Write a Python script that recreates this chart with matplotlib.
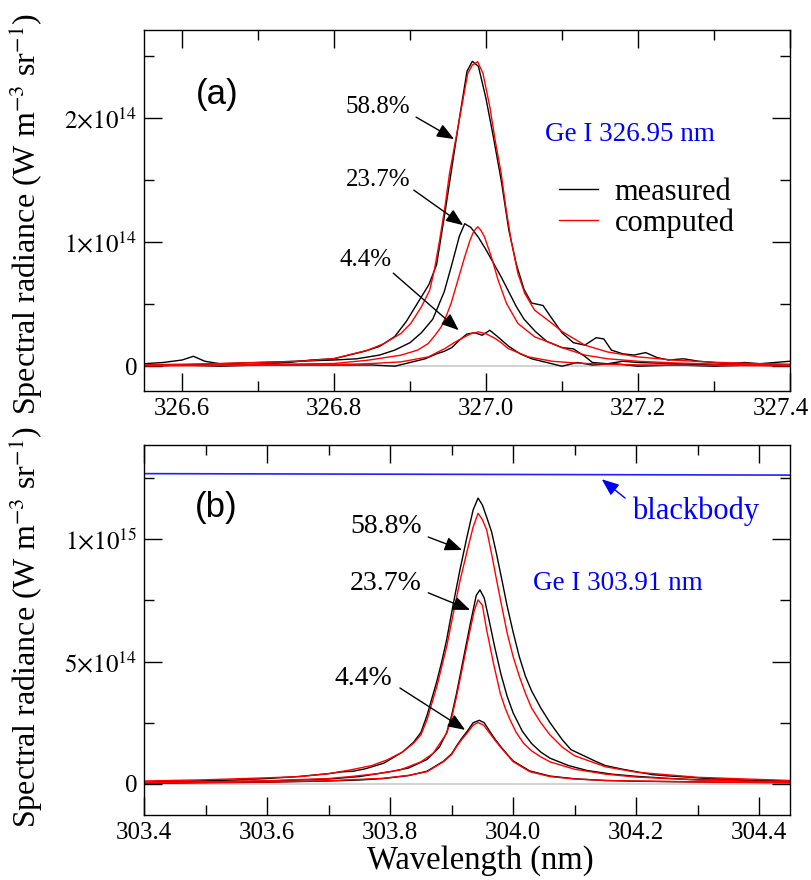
import matplotlib
matplotlib.use("Agg")
import matplotlib.pyplot as plt
from matplotlib.ticker import MultipleLocator, FixedLocator, FixedFormatter
from matplotlib.lines import Line2D
from matplotlib.transforms import ScaledTranslation

plt.rcParams['font.family'] = ['Liberation Serif', 'DejaVu Serif']
plt.rcParams['mathtext.fontset'] = 'stix'

# ---------------- panel (a): Ge I 326.95 nm  (values in 1e14 W m^-3 sr^-1) ----------------
wl_red588_a = [326.55, 326.6, 326.65, 326.7, 326.756, 326.8, 326.844, 326.866, 326.888, 326.901,
               326.915, 326.926, 326.932, 326.939, 326.946, 326.952, 326.96, 326.968, 326.976,
               326.982, 326.989, 326.996, 327.005, 327.012, 327.02, 327.026, 327.033, 327.042,
               327.051, 327.064, 327.087, 327.1, 327.13, 327.16, 327.2, 327.25, 327.3, 327.35, 327.4]
comp588_a = [0.012, 0.016, 0.022, 0.030, 0.040, 0.062, 0.129, 0.183, 0.264, 0.345,
             0.479, 0.614, 0.775, 1.017, 1.286, 1.556, 1.825, 2.094, 2.363,
             2.43, 2.457, 2.363, 2.094, 1.825, 1.556, 1.286, 1.017, 0.748,
             0.587, 0.452, 0.345, 0.28, 0.17, 0.115, 0.075, 0.048, 0.032, 0.022, 0.016]

wl_red237_a = [326.55, 326.6, 326.65, 326.7, 326.75, 326.8, 326.844, 326.888, 326.91, 326.924,
               326.933, 326.941, 326.948, 326.954, 326.963, 326.972, 326.979, 326.984, 326.989,
               326.993, 326.998, 327.007, 327.016, 327.027, 327.042, 327.064, 327.087, 327.1,
               327.13, 327.16, 327.2, 327.25, 327.3, 327.35, 327.4]
comp237_a = [0.006, 0.008, 0.011, 0.014, 0.018, 0.022, 0.048, 0.089, 0.13, 0.183,
             0.25, 0.317, 0.41, 0.506, 0.694, 0.883, 1.017, 1.09, 1.125,
             1.10, 1.044, 0.883, 0.694, 0.506, 0.345, 0.237, 0.183, 0.15,
             0.09, 0.06, 0.04, 0.026, 0.018, 0.013, 0.010]

wl_red44_a = [326.55, 326.6, 326.65, 326.7, 326.75, 326.8, 326.844, 326.888, 326.924, 326.946,
              326.958, 326.968, 326.98, 326.99, 327.0, 327.012, 327.02, 327.029, 327.056,
              327.087, 327.12, 327.16, 327.2, 327.25, 327.3, 327.35, 327.4]
comp44_a = [0.003, 0.004, 0.005, 0.007, 0.009, 0.013, 0.020, 0.035, 0.075, 0.143,
            0.19, 0.224, 0.262, 0.277, 0.262, 0.224, 0.19, 0.143, 0.075,
            0.040, 0.025, 0.016, 0.011, 0.008, 0.006, 0.004, 0.003]

wl_m588_a = [326.55, 326.575, 326.60, 326.615, 326.63, 326.65, 326.68, 326.71, 326.74, 326.77, 326.80,
             326.82, 326.84, 326.86, 326.88, 326.895, 326.91, 326.925, 326.935, 326.945, 326.955,
             326.965, 326.975, 326.982, 326.99, 327.0, 327.01, 327.02, 327.03, 327.04, 327.05,
             327.06, 327.075, 327.085, 327.10, 327.115, 327.13, 327.145, 327.155, 327.165, 327.18,
             327.195, 327.21, 327.225, 327.24, 327.26, 327.28, 327.30, 327.32, 327.34, 327.36,
             327.38, 327.40]
meas588_a = [0.02, 0.03, 0.05, 0.08, 0.04, 0.02, 0.01, 0.02, 0.03, 0.05, 0.06,
             0.09, 0.12, 0.16, 0.24, 0.36, 0.51, 0.66, 0.82, 1.20, 1.60,
             2.00, 2.38, 2.46, 2.42, 2.16, 1.84, 1.50, 1.10, 0.82, 0.62,
             0.51, 0.49, 0.40, 0.27, 0.19, 0.17, 0.23, 0.22, 0.13, 0.10,
             0.09, 0.11, 0.07, 0.05, 0.06, 0.04, 0.03, 0.02, 0.03, 0.02,
             0.03, 0.04]

wl_m237_a = [326.55, 326.6, 326.65, 326.7, 326.75, 326.8, 326.83, 326.86, 326.88, 326.9, 326.915,
             326.93, 326.945, 326.955, 326.965, 326.972, 326.98, 326.99, 327.0, 327.01, 327.02,
             327.03, 327.04, 327.05, 327.065, 327.08, 327.1, 327.115, 327.13, 327.14, 327.16,
             327.18, 327.2, 327.25, 327.3, 327.35, 327.4]
meas237_a = [0.00, 0.01, 0.02, 0.03, 0.04, 0.05, 0.06, 0.09, 0.13, 0.19, 0.27,
             0.38, 0.60, 0.82, 1.05, 1.15, 1.12, 1.04, 0.94, 0.83, 0.72,
             0.60, 0.48, 0.38, 0.28, 0.20, 0.15, 0.14, 0.08, 0.03, 0.02,
             0.04, 0.03, 0.02, 0.01, 0.02, 0.01]

wl_m44_a = [326.55, 326.6, 326.65, 326.7, 326.75, 326.8, 326.85, 326.88, 326.9, 326.92, 326.935,
            326.945, 326.955, 326.965, 326.975, 326.985, 326.995, 327.005, 327.015, 327.03, 327.045,
            327.06, 327.08, 327.1, 327.12, 327.14, 327.17, 327.2, 327.25, 327.3, 327.35, 327.4]
meas44_a = [0.00, 0.01, 0.00, 0.01, 0.01, 0.01, 0.01, 0.00, 0.03, 0.06, 0.10,
            0.12, 0.15, 0.21, 0.26, 0.27, 0.25, 0.29, 0.24, 0.16, 0.10,
            0.06, 0.03, 0.00, 0.03, 0.01, 0.02, 0.00, 0.01, 0.00, 0.01, 0.00]

# ---------------- panel (b): Ge I 303.91 nm  (values in 1e15 W m^-3 sr^-1) ----------------
wl_red588_b = [303.4, 303.5, 303.6, 303.654, 303.7, 303.735, 303.77, 303.795, 303.82, 303.838,
               303.85, 303.86, 303.868, 303.876, 303.884, 303.892, 303.903, 303.914, 303.925,
               303.935, 303.943, 303.95, 303.957, 303.965, 303.973, 303.982, 303.99, 304.0,
               304.01, 304.02, 304.03, 304.045, 304.06, 304.08, 304.1, 304.15, 304.2, 304.3, 304.45]
comp588_b = [0.012, 0.017, 0.025, 0.030, 0.042, 0.057, 0.075, 0.098, 0.13, 0.166,
             0.20, 0.262, 0.33, 0.398, 0.48, 0.561, 0.70, 0.834, 0.95,
             1.05, 1.106, 1.08, 1.038, 0.94, 0.834, 0.72, 0.62, 0.52,
             0.44, 0.37, 0.31, 0.25, 0.20, 0.15, 0.115, 0.07, 0.048, 0.027, 0.014]

wl_red237_b = [303.4, 303.5, 303.6, 303.7, 303.735, 303.78, 303.816, 303.85, 303.87, 303.892,
               303.9, 303.908, 303.919, 303.93, 303.937, 303.943, 303.95, 303.957, 303.968,
               303.979, 303.987, 303.995, 304.005, 304.017, 304.03, 304.044, 304.06, 304.1,
               304.15, 304.2, 304.3, 304.45]
comp237_b = [0.005, 0.008, 0.013, 0.022, 0.030, 0.042, 0.057, 0.09, 0.125, 0.207,
             0.27, 0.357, 0.493, 0.629, 0.71, 0.752, 0.73, 0.629, 0.493,
             0.371, 0.31, 0.262, 0.21, 0.166, 0.135, 0.112, 0.09, 0.06,
             0.04, 0.028, 0.016, 0.008]

wl_red44_b = [303.4, 303.6, 303.7, 303.789, 303.83, 303.86, 303.887, 303.9, 303.908, 303.916,
              303.925, 303.935, 303.943, 303.952, 303.962, 303.97, 303.979, 303.99, 304.0,
              304.027, 304.06, 304.1, 304.15, 304.3, 304.45]
comp44_b = [0.004, 0.008, 0.013, 0.023, 0.035, 0.050, 0.091, 0.12, 0.152, 0.18,
            0.207, 0.24, 0.251, 0.24, 0.207, 0.18, 0.152, 0.12, 0.091,
            0.05, 0.03, 0.02, 0.014, 0.008, 0.005]

wl_m588_b = [303.4, 303.45, 303.5, 303.55, 303.6, 303.65, 303.7, 303.72, 303.74, 303.76, 303.79,
             303.82, 303.838, 303.85, 303.86, 303.868, 303.876, 303.884, 303.892, 303.903, 303.914,
             303.925, 303.935, 303.943, 303.95, 303.957, 303.965, 303.973, 303.982, 303.99, 304.0,
             304.01, 304.02, 304.03, 304.045, 304.06, 304.08, 304.094, 304.115, 304.136, 304.15,
             304.178, 304.2, 304.226, 304.25, 304.282, 304.31, 304.331, 304.36, 304.4, 304.43, 304.45]
meas588_b = [0.007, 0.010, 0.013, 0.016, 0.022, 0.030, 0.042, 0.049, 0.052, 0.062, 0.085,
             0.13, 0.17, 0.21, 0.28, 0.35, 0.42, 0.50, 0.59, 0.74, 0.88,
             1.01, 1.12, 1.168, 1.14, 1.09, 1.03, 0.94, 0.83, 0.73, 0.62,
             0.52, 0.44, 0.38, 0.31, 0.25, 0.18, 0.14, 0.115, 0.09, 0.075,
             0.06, 0.05, 0.038, 0.033, 0.028, 0.023, 0.021, 0.017, 0.014, 0.013, 0.011]

wl_m237_b = [303.4, 303.5, 303.6, 303.7, 303.75, 303.8, 303.83, 303.86, 303.88, 303.892, 303.9,
             303.908, 303.919, 303.93, 303.94, 303.946, 303.953, 303.96, 303.97, 303.98, 303.99,
             304.0, 304.015, 304.03, 304.045, 304.06, 304.09, 304.12, 304.16, 304.2, 304.25,
             304.3, 304.35, 304.4, 304.45]
meas237_b = [0.004, 0.007, 0.012, 0.020, 0.030, 0.050, 0.065, 0.10, 0.15, 0.21, 0.28,
             0.37, 0.51, 0.65, 0.77, 0.793, 0.76, 0.68, 0.56, 0.45, 0.36,
             0.29, 0.215, 0.165, 0.13, 0.105, 0.075, 0.055, 0.040, 0.031, 0.023,
             0.017, 0.014, 0.011, 0.009]

wl_m44_b = [303.4, 303.5, 303.6, 303.7, 303.75, 303.789, 303.83, 303.86, 303.887, 303.9, 303.908,
            303.916, 303.925, 303.935, 303.945, 303.953, 303.962, 303.97, 303.979, 303.99, 304.0,
            304.027, 304.06, 304.1, 304.15, 304.2, 304.3, 304.45]
meas44_b = [0.003, 0.005, 0.007, 0.012, 0.016, 0.022, 0.034, 0.052, 0.093, 0.123, 0.155,
            0.185, 0.214, 0.25, 0.26, 0.25, 0.215, 0.185, 0.155, 0.122, 0.094,
            0.053, 0.032, 0.021, 0.014, 0.011, 0.008, 0.005]

wl_bb = [303.4, 304.45]
blackbody = [1.268, 1.262]

pct_labels = ['58.8%', '23.7%', '4.4%']
legend_labels = ['measured', 'computed']
yticks_a = [0, 1, 2]
yticklabels_a = ['0', r'$1{\times}10^{14}$', r'$2{\times}10^{14}$']
yticks_b = [0, 0.5, 1.0]
yticklabels_b = ['0', r'$5{\times}10^{14}$', r'$1{\times}10^{15}$']
ylabel = r'Spectral radiance (W m$^{-3}$ sr$^{-1}$)'

fig = plt.figure(figsize=(8.12, 8.8), dpi=100)
ax1 = fig.add_axes([144/812, 1 - 391/880, 646/812, 361/880])
ax2 = fig.add_axes([144/812, 1 - 815/880, 646/812, 370/880])

def style(ax):
    ax.tick_params(which='both', direction='in', top=True, right=True, width=1.0,
                   labelsize=18, pad=5)
    ax.tick_params(which='major', length=13)
    ax.tick_params(which='minor', length=7.5)
    for s in ax.spines.values():
        s.set_linewidth(1.0)

arrow_kw = dict(arrowstyle='-|>,head_length=0.7,head_width=0.28', color='black', lw=1.0,
                mutation_scale=15, shrinkA=0, shrinkB=0)

# ---- panel a ----
ax1.axhline(0, color='#cfcfcf', lw=1.3, zorder=0.5)
for wl, v in [(wl_m588_a, meas588_a), (wl_m237_a, meas237_a), (wl_m44_a, meas44_a)]:
    ax1.plot(wl, v, color='black', lw=1.0)
for wl, v in [(wl_red588_a, comp588_a), (wl_red237_a, comp237_a), (wl_red44_a, comp44_a)]:
    ax1.plot(wl, v, color='red', lw=1.0)
ax1.set_xlim(326.55, 327.4)
ax1.set_ylim(-0.2, 2.713)
ax1.xaxis.set_major_locator(MultipleLocator(0.2))
ax1.xaxis.set_minor_locator(MultipleLocator(0.1))
ax1.xaxis.set_major_formatter(plt.FormatStrFormatter('%.1f'))
ax1.yaxis.set_major_locator(FixedLocator(yticks_a))
ax1.yaxis.set_major_formatter(FixedFormatter(yticklabels_a))
ax1.yaxis.set_minor_locator(MultipleLocator(0.5))
style(ax1)
ax1.set_ylabel(ylabel, fontsize=23)
ax1.yaxis.set_label_coords(-0.153, 0.49)

ax1.text(0.113, 0.82, '(a)', transform=ax1.transAxes, fontsize=25,
         family='Liberation Sans', ha='center', va='center')
ax1.text(327.19, 1.87, 'Ge I 326.95 nm', color='blue', fontsize=19.5, ha='center', va='center')

txt_a = [(326.858, 2.091), (326.858, 1.502), (326.841, 0.856)]
tail_a = [(326.908, 2.01), (326.905, 1.421), (326.878, 0.751)]
tip_a = [(326.958, 1.833), (326.970, 1.138), (326.964, 0.291)]
for lab, t, tl, tp in zip(pct_labels, txt_a, tail_a, tip_a):
    ax1.text(t[0], t[1], lab, fontsize=18, ha='center', va='center')
    ax1.annotate('', xy=tp, xytext=tl, arrowprops=arrow_kw)

handles = [Line2D([], [], color='black', lw=1.0), Line2D([], [], color='red', lw=1.0)]
ax1.legend(handles, legend_labels, loc='center left', bbox_to_anchor=(0.643, 0.508),
           frameon=False, fontsize=22, handlelength=1.25, handletextpad=0.55,
           labelspacing=0.05, borderpad=0, borderaxespad=0)

# ---- panel b ----
ax2.axhline(0, color='#cfcfcf', lw=1.3, zorder=0.5)
ax2.plot(wl_bb, blackbody, color='#2020ff', lw=1.2)
for wl, v in [(wl_m588_b, meas588_b), (wl_m237_b, meas237_b), (wl_m44_b, meas44_b)]:
    ax2.plot(wl, v, color='black', lw=1.0)
for wl, v in [(wl_red588_b, comp588_b), (wl_red237_b, comp237_b), (wl_red44_b, comp44_b)]:
    ax2.plot(wl, v, color='red', lw=1.0)
ax2.set_xlim(303.4, 304.45)
ax2.set_ylim(-0.127, 1.385)
ax2.xaxis.set_major_locator(MultipleLocator(0.2))
ax2.xaxis.set_minor_locator(MultipleLocator(0.1))
ax2.xaxis.set_major_formatter(plt.FormatStrFormatter('%.1f'))
ax2.yaxis.set_major_locator(FixedLocator(yticks_b))
ax2.yaxis.set_major_formatter(FixedFormatter(yticklabels_b))
ax2.yaxis.set_minor_locator(MultipleLocator(0.25))
style(ax2)
ax2.set_ylabel(ylabel, fontsize=23)
ax2.yaxis.set_label_coords(-0.153, 0.508)
ax2.set_xlabel('Wavelength (nm)', fontsize=23.5)
ax2.xaxis.set_label_coords(0.52, -0.082)

ax2.text(0.111, 0.83, '(b)', transform=ax2.transAxes, fontsize=25,
         family='Liberation Sans', ha='center', va='center')
ax2.text(304.170, 0.821, 'Ge I 303.91 nm', color='blue', fontsize=19.5, ha='center', va='center')
ax2.text(304.297, 1.116, 'blackbody', color='blue', fontsize=22, ha='center', va='center')
bb_kw = dict(arrow_kw)
bb_kw['color'] = 'blue'
ax2.annotate('', xy=(304.144, 1.245), xytext=(304.182, 1.168), arrowprops=bb_kw)

txt_b = [(303.793, 1.050), (303.793, 0.821), (303.756, 0.429)]
tail_b = [(303.862, 1.009), (303.862, 0.781), (303.816, 0.392)]
tip_b = [(303.917, 0.956), (303.930, 0.711), (303.922, 0.221)]
for lab, t, tl, tp in zip(pct_labels, txt_b, tail_b, tip_b):
    ax2.text(t[0], t[1], lab, fontsize=20, ha='center', va='center')
    ax2.annotate('', xy=tp, xytext=tl, arrowprops=arrow_kw)

# nudge the right-most tick label of panel (a) so it stays inside the canvas
fig.canvas.draw()
for tick in ax1.xaxis.get_major_ticks():
    if abs(tick.get_loc() - 327.4) < 1e-6:
        lab = tick.label1
        lab.set_transform(lab.get_transform() + ScaledTranslation(-9/100, 0, fig.dpi_scale_trans))

fig.savefig('out.png', dpi=100)
